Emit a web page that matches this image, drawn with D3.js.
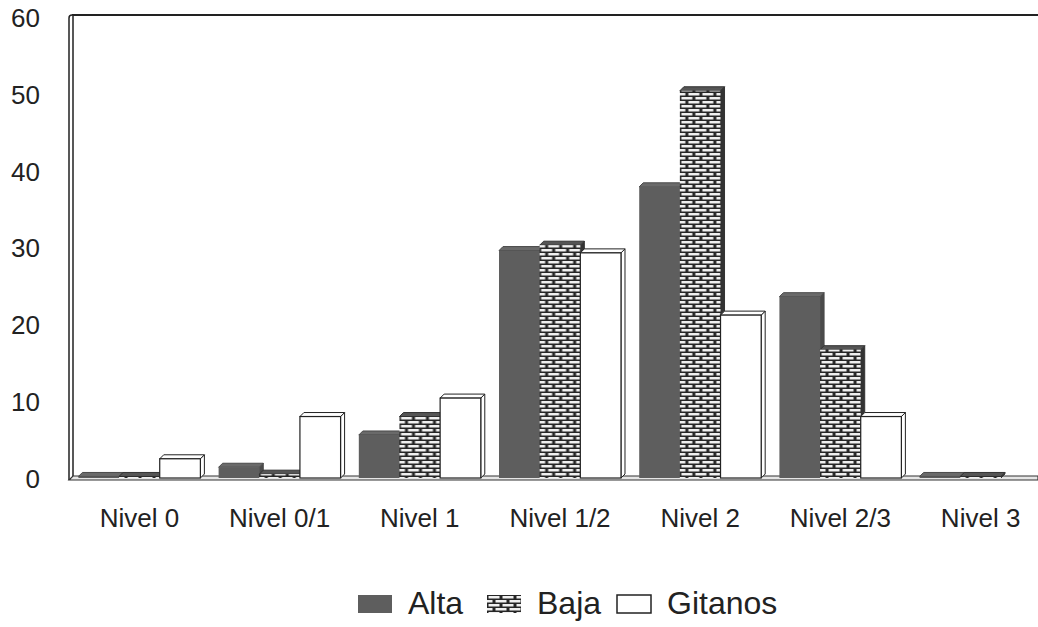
<!DOCTYPE html>
<html>
<head>
<meta charset="utf-8">
<script src="https://cdn.jsdelivr.net/npm/d3@7"></script>
<style>
  body { margin: 0; background: #fff; }
  svg { font-family: "Liberation Sans", Arial, sans-serif; }
</style>
</head>
<body>
<svg id="chart"></svg>
<script>
const categories = ["Nivel 0", "Nivel 0/1", "Nivel 1", "Nivel 1/2", "Nivel 2", "Nivel 2/3", "Nivel 3"];
const series = ["Alta", "Baja", "Gitanos"];
const alta = [0.2, 1.4, 5.6, 29.6, 37.9, 23.6, 0.2];
const baja = [0.2, 0.5, 8.0, 30.3, 50.4, 16.7, 0.2];
const gitanos = [2.5, 8.0, 10.4, 29.3, 21.2, 8.0, 0];
const yTicks = [0, 10, 20, 30, 40, 50, 60];

const width = 1038, height = 627;
const depth = 4;

const svg = d3.select("#chart")
  .attr("width", width)
  .attr("height", height);

// brick pattern for "Baja"
const defs = svg.append("defs");
const pat = defs.append("pattern")
  .attr("id", "brick")
  .attr("patternUnits", "userSpaceOnUse")
  .attr("width", 14)
  .attr("height", 8);
pat.append("rect").attr("width", 14).attr("height", 8).attr("fill", "#262626");
pat.append("rect").attr("x", 1.5).attr("y", 1).attr("width", 11).attr("height", 2.5).attr("fill", "#f0f0f0");
pat.append("rect").attr("x", -5.5).attr("y", 5).attr("width", 11).attr("height", 2.5).attr("fill", "#f0f0f0");
pat.append("rect").attr("x", 8.5).attr("y", 5).attr("width", 11).attr("height", 2.5).attr("fill", "#f0f0f0");

const x0 = d3.scaleBand()
  .domain(categories)
  .range([70, 1050])
  .paddingInner(0.13)
  .paddingOuter(0.06);

const x1 = d3.scaleBand()
  .domain(series)
  .range([0, x0.bandwidth()]);

const y = d3.scaleLinear()
  .domain([0, 60])
  .range([478, 17]);

// back wall lines
svg.append("line")
  .attr("x1", 72).attr("x2", width)
  .attr("y1", 15).attr("y2", 15)
  .attr("stroke", "#222").attr("stroke-width", 2);
svg.append("path")
  .attr("d", `M69,480 L69,18 Q69,15 72,15 L73,15 L73,476`)
  .attr("fill", "#fff")
  .attr("stroke", "#222")
  .attr("stroke-width", 1.5);

// floor
svg.append("path")
  .attr("d", `M69,480 L${width},480 L${width},476 L73,476 Z`)
  .attr("fill", "#e6e6e6")
  .attr("stroke", "#333")
  .attr("stroke-width", 1.2);

// y axis labels
const yAxis = svg.append("g")
  .attr("transform", "translate(70,0)")
  .call(d3.axisLeft(y).tickValues(yTicks).tickSize(0).tickPadding(30));
yAxis.select(".domain").remove();
yAxis.selectAll("text")
  .attr("fill", "#222")
  .attr("dy", "0.36em")
  .style("font-size", "26px")
  .style("font-family", "Liberation Sans, Arial, sans-serif");

// x axis labels
const xAxis = svg.append("g")
  .attr("transform", "translate(0,478)")
  .call(d3.axisBottom(x0).tickSize(0).tickPadding(31));
xAxis.select(".domain").remove();
xAxis.selectAll("text")
  .attr("fill", "#222")
  .style("font-size", "26px")
  .style("font-family", "Liberation Sans, Arial, sans-serif");

const styles = {
  Alta: { front: "#5e5e5e", top: "#6a6a6a", side: "#4a4a4a", stroke: "#4a4a4a" },
  Baja: { front: "url(#brick)", top: "#555", side: "#333", stroke: "#333" },
  Gitanos: { front: "#fff", top: "#fff", side: "#fff", stroke: "#222" }
};

const rows = [];
categories.forEach((c, i) => {
  rows.push({ cat: c, s: "Alta", v: alta[i] });
  rows.push({ cat: c, s: "Baja", v: baja[i] });
  rows.push({ cat: c, s: "Gitanos", v: gitanos[i] });
});

const bars = svg.append("g").selectAll("g")
  .data(rows.filter(d => d.v > 0))
  .join("g")
  .attr("transform", d => `translate(${x0(d.cat) + x1(d.s)},0)`);

bars.each(function(d) {
  const g = d3.select(this);
  const w = x1.bandwidth();
  const yt = y(d.v), yb = y(0);
  const st = styles[d.s];
  // side
  g.append("path")
    .attr("d", `M${w},${yt} L${w + depth},${yt - depth} L${w + depth},${yb - depth} L${w},${yb} Z`)
    .attr("fill", st.side)
    .attr("stroke", st.stroke)
    .attr("stroke-width", 1);
  // top
  g.append("path")
    .attr("d", `M0,${yt} L${depth},${yt - depth} L${w + depth},${yt - depth} L${w},${yt} Z`)
    .attr("fill", st.top)
    .attr("stroke", st.stroke)
    .attr("stroke-width", 1);
  // front
  g.append("rect")
    .attr("x", 0)
    .attr("y", yt)
    .attr("width", w)
    .attr("height", yb - yt)
    .attr("fill", st.front)
    .attr("stroke", d.s === "Gitanos" ? st.stroke : "none")
    .attr("stroke-width", 1.2);
});

// legend
const legend = svg.append("g").attr("transform", "translate(358,595)");
const legX = [0, 129, 259];
series.forEach((s, i) => {
  const lg = legend.append("g").attr("transform", `translate(${legX[i]},0)`);
  lg.append("rect")
    .attr("width", 34).attr("height", 18)
    .attr("fill", styles[s].front)
    .attr("stroke", s === "Gitanos" ? "#222" : "none")
    .attr("stroke-width", 1.5);
  lg.append("text")
    .attr("x", 50).attr("y", 19)
    .attr("fill", "#222")
    .style("font-size", "32px")
    .text(s);
});
</script>
</body>
</html>
